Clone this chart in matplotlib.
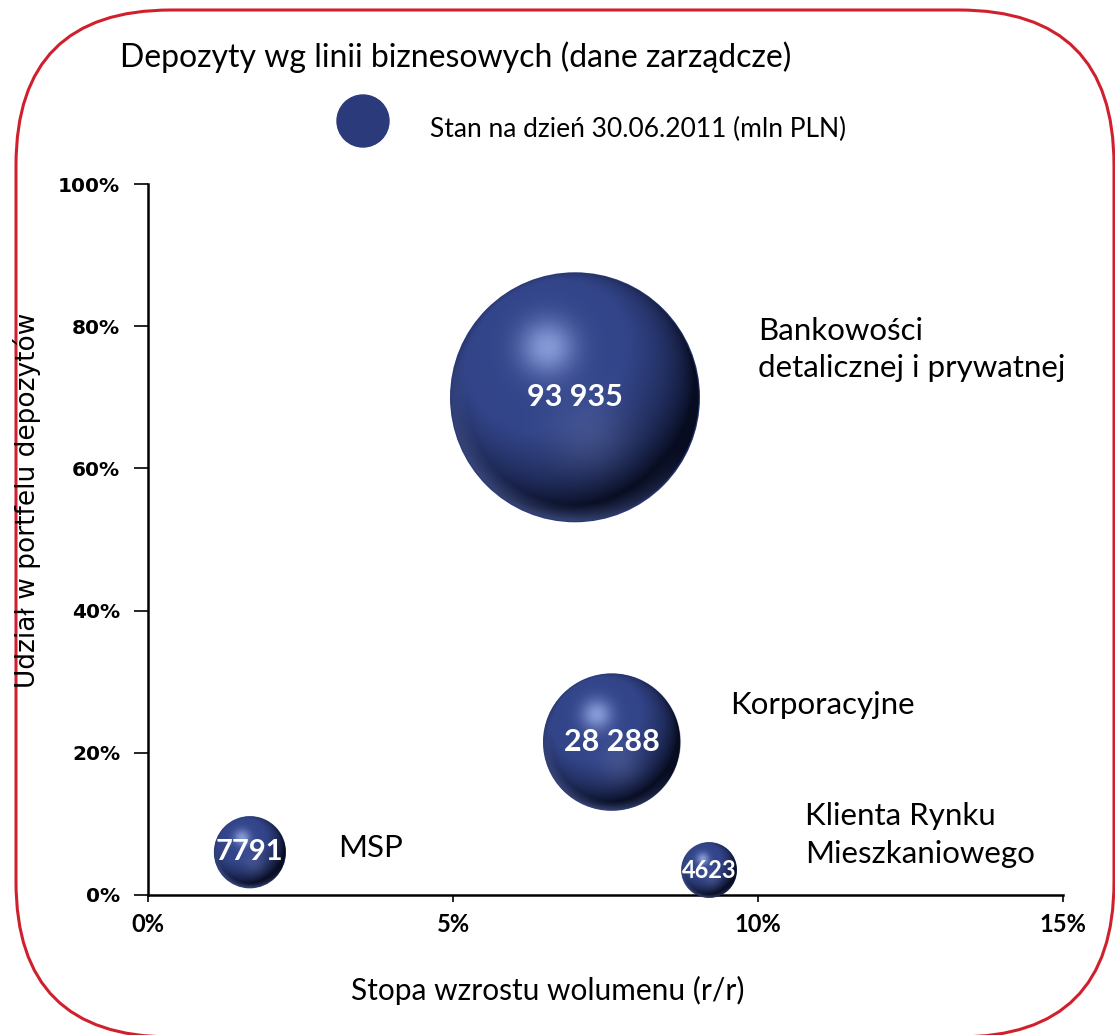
import matplotlib
matplotlib.use('Agg')
import matplotlib.pyplot as plt
import numpy as np
from matplotlib.patches import FancyBboxPatch, Circle

# deposits by business line, 30.06.2011
segments = ['Bankowości\ndetalicznej i prywatnej', 'Korporacyjne', 'MSP', 'Klienta Rynku\nMieszkaniowego']
growth = [0.070, 0.076, 0.0167, 0.092]      # y/y volume growth
share = [0.70, 0.215, 0.060, 0.035]         # share of deposit portfolio
volume = [93935, 28288, 7791, 4623]         # mln PLN
x_ticks = [0, 0.05, 0.10, 0.15]
y_ticks = [0, 0.2, 0.4, 0.6, 0.8, 1.0]

# where each segment name sits next to its bubble
name_pos = [(0.100, 0.767), (0.0954, 0.267), (0.0311, 0.066), (0.1077, 0.0844)]
value_size = [22, 22, 21, 17]

W, H, DPI = 1115, 1035, 100
navy = '#2B3A7A'
txt_font = 'Lato'

def sphere_rgba(n=256):
    """shaded navy sphere, transparent outside the disc"""
    t = np.linspace(-1, 1, n)
    u, v = np.meshgrid(t, -t)
    r2 = u**2 + v**2
    nz = np.sqrt(np.clip(1 - r2, 0, 1))
    L = np.array([-0.30, 0.45, 0.84])
    L = L / np.linalg.norm(L)
    diff = np.clip(u*L[0] + v*L[1] + nz*L[2], 0, 1)
    dark = np.array([0.03, 0.05, 0.13])
    mid = np.array([0.20, 0.27, 0.54])
    light = np.array([0.66, 0.74, 0.97])
    k = diff[..., None] ** 0.9
    col = dark + (mid - dark) * np.clip(k * 1.3, 0, 1)
    spec = np.exp(-((u + 0.22)**2 + (v - 0.40)**2) / 0.05)[..., None]
    col = col + (light - col) * spec * 0.7
    glow = (0.28 * np.exp(-((u - 0.12)**2 + (v + 0.30)**2) / 0.10))[..., None]
    col = col + (np.array([0.45, 0.50, 0.70]) - col) * glow
    rim = np.clip((np.sqrt(r2) - 0.86) / 0.14, 0, 1) * np.clip(-v - u * 0.5, 0, 1)
    col = col + (np.array([0.35, 0.42, 0.68]) - col) * (rim[..., None] * 0.6)
    alpha = np.clip((1 - np.sqrt(r2)) * n / 2.5, 0, 1)
    return np.dstack([np.clip(col, 0, 1), alpha])

fig = plt.figure(figsize=(W / DPI, H / DPI), dpi=DPI)

# frame layer in pixel units
bg = fig.add_axes([0, 0, 1, 1], zorder=0)
bg.set_xlim(0, W)
bg.set_ylim(H, 0)
bg.axis('off')
bg.add_patch(FancyBboxPatch((16, 10), 1098, 1027, boxstyle='round,pad=0,rounding_size=155',
                            fc='white', ec='#D0202E', lw=2.2))
bg.text(120, 57, 'Depozyty wg linii biznesowych (dane zarządcze)', fontsize=23,
        family=txt_font, va='center', ha='left')
bg.add_patch(Circle((363, 121), 26, color=navy))
bg.text(430, 129, 'Stan na dzień 30.06.2011 (mln PLN)', fontsize=19,
        family=txt_font, va='center', ha='left')
bg.text(27, 500, 'Udział w portfelu depozytów', rotation=90, fontsize=19,
        family='Liberation Sans Narrow', va='center', ha='center')
bg.text(548, 990, 'Stopa wzrostu wolumenu (r/r)', fontsize=21.5,
        family=txt_font, va='center', ha='center')

ax = fig.add_axes([148 / W, 1 - 895 / H, 915 / W, 711 / H], zorder=1)
ax.patch.set_alpha(0)
ax.set_xlim(0, 0.15)
ax.set_ylim(0, 1.0)
for s in ['top', 'right']:
    ax.spines[s].set_visible(False)
for s in ['left', 'bottom']:
    ax.spines[s].set_linewidth(1.8)

ax.set_xticks(x_ticks)
ax.set_xticklabels(['%d%%' % round(x * 100) for x in x_ticks],
                   fontsize=17, fontweight='bold', family=txt_font)
ax.set_yticks(y_ticks)
ax.set_yticklabels(['%d%%' % round(y * 100) for y in y_ticks],
                   fontsize=14.5, fontweight='bold', family='DejaVu Sans')
ax.tick_params(axis='y', length=10, width=1.2, pad=10)
ax.tick_params(axis='x', length=5, width=1.2, pad=8)

# bubble area proportional to volume
sizes = np.array(volume) * 32400 / 93935
ax.scatter(growth, share, s=sizes, color=navy, zorder=2, clip_on=False, lw=0)

img = sphere_rgba()
ax_w = 915
ax_h = 711
for gx, sh, sz, vol, (nx, ny), vs, name in zip(growth, share, sizes, volume,
                                               name_pos, value_size, segments):
    r_px = np.sqrt(sz) / 2 * DPI / 72
    dx = r_px / ax_w * 0.15
    dy = r_px / ax_h * 1.0
    ax.imshow(img, extent=[gx - dx, gx + dx, sh - dy, sh + dy], zorder=3,
              aspect='auto', clip_on=False, interpolation='bilinear')
    label = '{:,}'.format(vol).replace(',', ' ') if vol >= 10000 else str(vol)
    ax.text(gx, sh, label, color='white', fontsize=vs, fontweight='bold',
            family=txt_font, ha='center', va='center', zorder=4)
    ax.text(nx, ny, name, fontsize=22.5, family=txt_font, ha='left', va='center',
            linespacing=1.42, zorder=4)

ax.set_xlim(0, 0.15)
ax.set_ylim(0, 1.0)

fig.savefig('out.png', dpi=DPI)
